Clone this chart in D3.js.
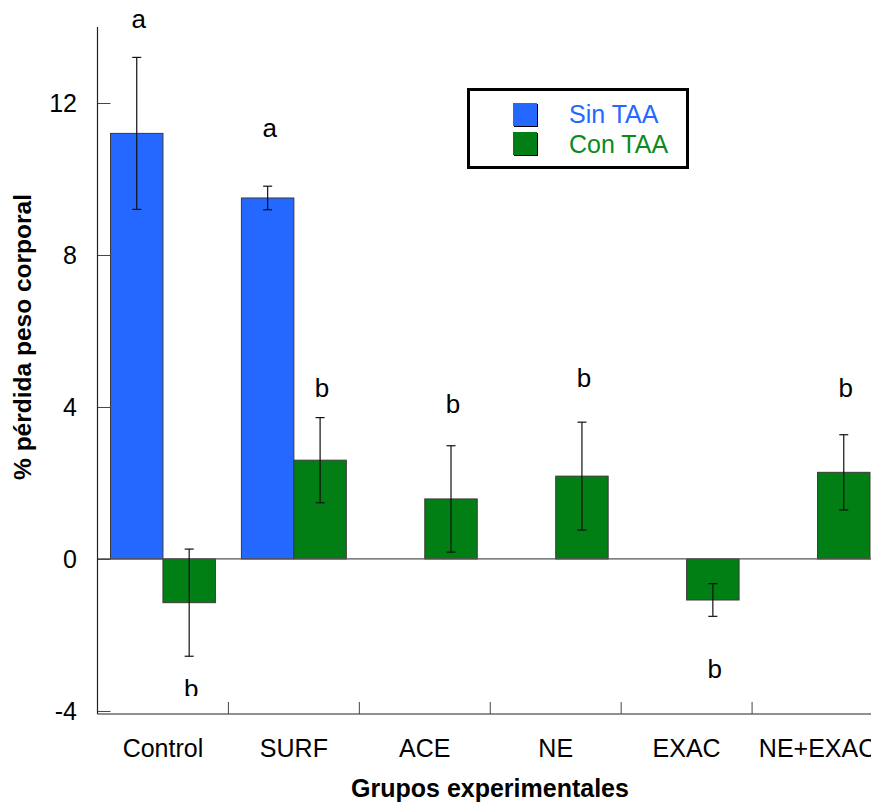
<!DOCTYPE html>
<html>
<head>
<meta charset="utf-8">
<script src="https://cdn.jsdelivr.net/npm/d3@7/dist/d3.min.js"></script>
<style>
  html, body { margin: 0; padding: 0; background: #fff; }
  svg { display: block; font-family: "Liberation Sans", Arial, sans-serif; }
</style>
</head>
<body>
<svg id="chart" width="871" height="804"></svg>
<script>
// ---- data ----
const categories = ["Control", "SURF", "ACE", "NE", "EXAC", "NE+EXAC"];
const seriesNames = ["Sin TAA", "Con TAA"];
const sinTAA = [11.2, 9.5, null, null, null, null];
const sinTAAErr = [2.0, 0.31, null, null, null, null];
const conTAA = [-1.15, 2.6, 1.58, 2.18, -1.08, 2.28];
const conTAAErr = [1.41, 1.12, 1.4, 1.42, 0.43, 0.99];
const sinLetters = ["a", "a", "", "", "", ""];
const sinLetterY = [13.97, 11.11, null, null, null, null];
const conLetters = ["b", "b", "b", "b", "b", "b"];
const conLetterY = [-3.66, 4.26, 3.84, 4.53, -3.14, 4.26];
const yTicks = [-4, 0, 4, 8, 12];
const yDomain = [-4.08, 14];

// ---- layout ----
const svg = d3.select("#chart");
const mLeft = 97.5, mRight = 883, mTop = 27, mBottom = 714;
const colors = { "Sin TAA": "#2468ff", "Con TAA": "#017f15" };
const textColors = { "Sin TAA": "#2468ff", "Con TAA": "#0d8a1c" };
const fontSize = 25;

const x = d3.scaleBand().domain(categories).range([mLeft, mRight]).paddingInner(0).paddingOuter(0);
const xs = d3.scaleBand().domain(seriesNames).range([0, x.bandwidth()]).paddingInner(0).paddingOuter(0.248);
const y = d3.scaleLinear().domain(yDomain).range([mBottom, mTop]);

const rows = [];
categories.forEach((c, i) => {
  rows.push({ cat: c, s: "Sin TAA", v: sinTAA[i], e: sinTAAErr[i], l: sinLetters[i], ly: sinLetterY[i] });
  rows.push({ cat: c, s: "Con TAA", v: conTAA[i], e: conTAAErr[i], l: conLetters[i], ly: conLetterY[i] });
});
const bars = rows.filter(d => d.v !== null);

// clip for annotations
svg.append("defs").append("clipPath").attr("id", "lblclip")
  .append("rect").attr("x", 0).attr("y", 0).attr("width", 871).attr("height", 696);

// bars
svg.append("g").selectAll("rect").data(bars).join("rect")
  .attr("x", d => x(d.cat) + xs(d.s))
  .attr("width", xs.bandwidth())
  .attr("y", d => y(Math.max(0, d.v)))
  .attr("height", d => Math.abs(y(d.v) - y(0)))
  .attr("fill", d => colors[d.s])
  .attr("stroke", "#3a3a3a")
  .attr("stroke-width", 1);

// zero line
svg.append("line")
  .attr("x1", mLeft).attr("x2", 871)
  .attr("y1", y(0)).attr("y2", y(0))
  .attr("stroke", "#555").attr("stroke-width", 1.3);

// error bars
const eb = svg.append("g").attr("stroke", "#111").attr("stroke-width", 1.2);
const capW = 9;
bars.forEach(d => {
  const cx = x(d.cat) + xs(d.s) + xs.bandwidth() / 2;
  const y1 = y(d.v + d.e), y2 = y(d.v - d.e);
  eb.append("line").attr("x1", cx).attr("x2", cx).attr("y1", y1).attr("y2", y2);
  eb.append("line").attr("x1", cx - capW / 2).attr("x2", cx + capW / 2).attr("y1", y1).attr("y2", y1);
  eb.append("line").attr("x1", cx - capW / 2).attr("x2", cx + capW / 2).attr("y1", y2).attr("y2", y2);
});

// letters
svg.append("g").attr("clip-path", "url(#lblclip)")
  .selectAll("text").data(rows.filter(d => d.l && d.ly !== null)).join("text")
  .attr("x", d => x(d.cat) + xs(d.s) + xs.bandwidth() / 2 + 2)
  .attr("y", d => y(d.ly))
  .attr("text-anchor", "middle")
  .attr("font-size", fontSize + 1)
  .attr("fill", "#000")
  .text(d => d.l);

// y axis
const yAxis = d3.axisRight(y).tickValues(yTicks).tickSize(13).tickFormat("");
const gy = svg.append("g").attr("transform", `translate(${mLeft},0)`).call(yAxis);
gy.select(".domain").remove();
gy.selectAll(".tick line").attr("stroke", "#444");
svg.append("line").attr("x1", mLeft).attr("x2", mLeft).attr("y1", mTop).attr("y2", mBottom)
  .attr("stroke", "#222").attr("stroke-width", 1.2);
svg.append("g").selectAll("text").data(yTicks).join("text")
  .attr("x", 77).attr("y", d => y(d))
  .attr("dy", "0.35em")
  .attr("text-anchor", "end")
  .attr("font-size", fontSize)
  .text(d => d);

// x axis
svg.append("line").attr("x1", mLeft).attr("x2", 871).attr("y1", mBottom).attr("y2", mBottom)
  .attr("stroke", "#222").attr("stroke-width", 1.2);
const boundaries = categories.slice(1).map(c => x(c));
svg.append("g").selectAll("line").data(boundaries).join("line")
  .attr("x1", d => d).attr("x2", d => d)
  .attr("y1", mBottom).attr("y2", mBottom - 12)
  .attr("stroke", "#444").attr("stroke-width", 1);
svg.append("g").selectAll("text").data(categories).join("text")
  .attr("x", d => x(d) + x.bandwidth() / 2)
  .attr("y", 757)
  .attr("text-anchor", "middle")
  .attr("font-size", fontSize)
  .text(d => d);

// axis titles
svg.append("text")
  .attr("x", 490).attr("y", 797)
  .attr("text-anchor", "middle")
  .attr("font-size", fontSize).attr("font-weight", "bold")
  .text("Grupos experimentales");
svg.append("text")
  .attr("transform", "translate(31,337) rotate(-90)")
  .attr("text-anchor", "middle")
  .attr("font-size", 24.5).attr("font-weight", "bold")
  .text("% pérdida peso corporal");

// legend
const lg = svg.append("g");
lg.append("rect").attr("x", 468.5).attr("y", 89.5).attr("width", 219).attr("height", 78)
  .attr("fill", "#fff").attr("stroke", "#000").attr("stroke-width", 3);
seriesNames.forEach((s, i) => {
  const sy = 103 + i * 29;
  lg.append("rect").attr("x", 514).attr("y", sy + 1).attr("width", 24).attr("height", 23).attr("fill", "#000");
  lg.append("rect").attr("x", 513).attr("y", sy).attr("width", 24).attr("height", 23).attr("fill", colors[s]);
  lg.append("text").attr("x", 569).attr("y", 123 + i * 30)
    .attr("font-size", fontSize).attr("fill", textColors[s]).text(s);
});
</script>
</body>
</html>
